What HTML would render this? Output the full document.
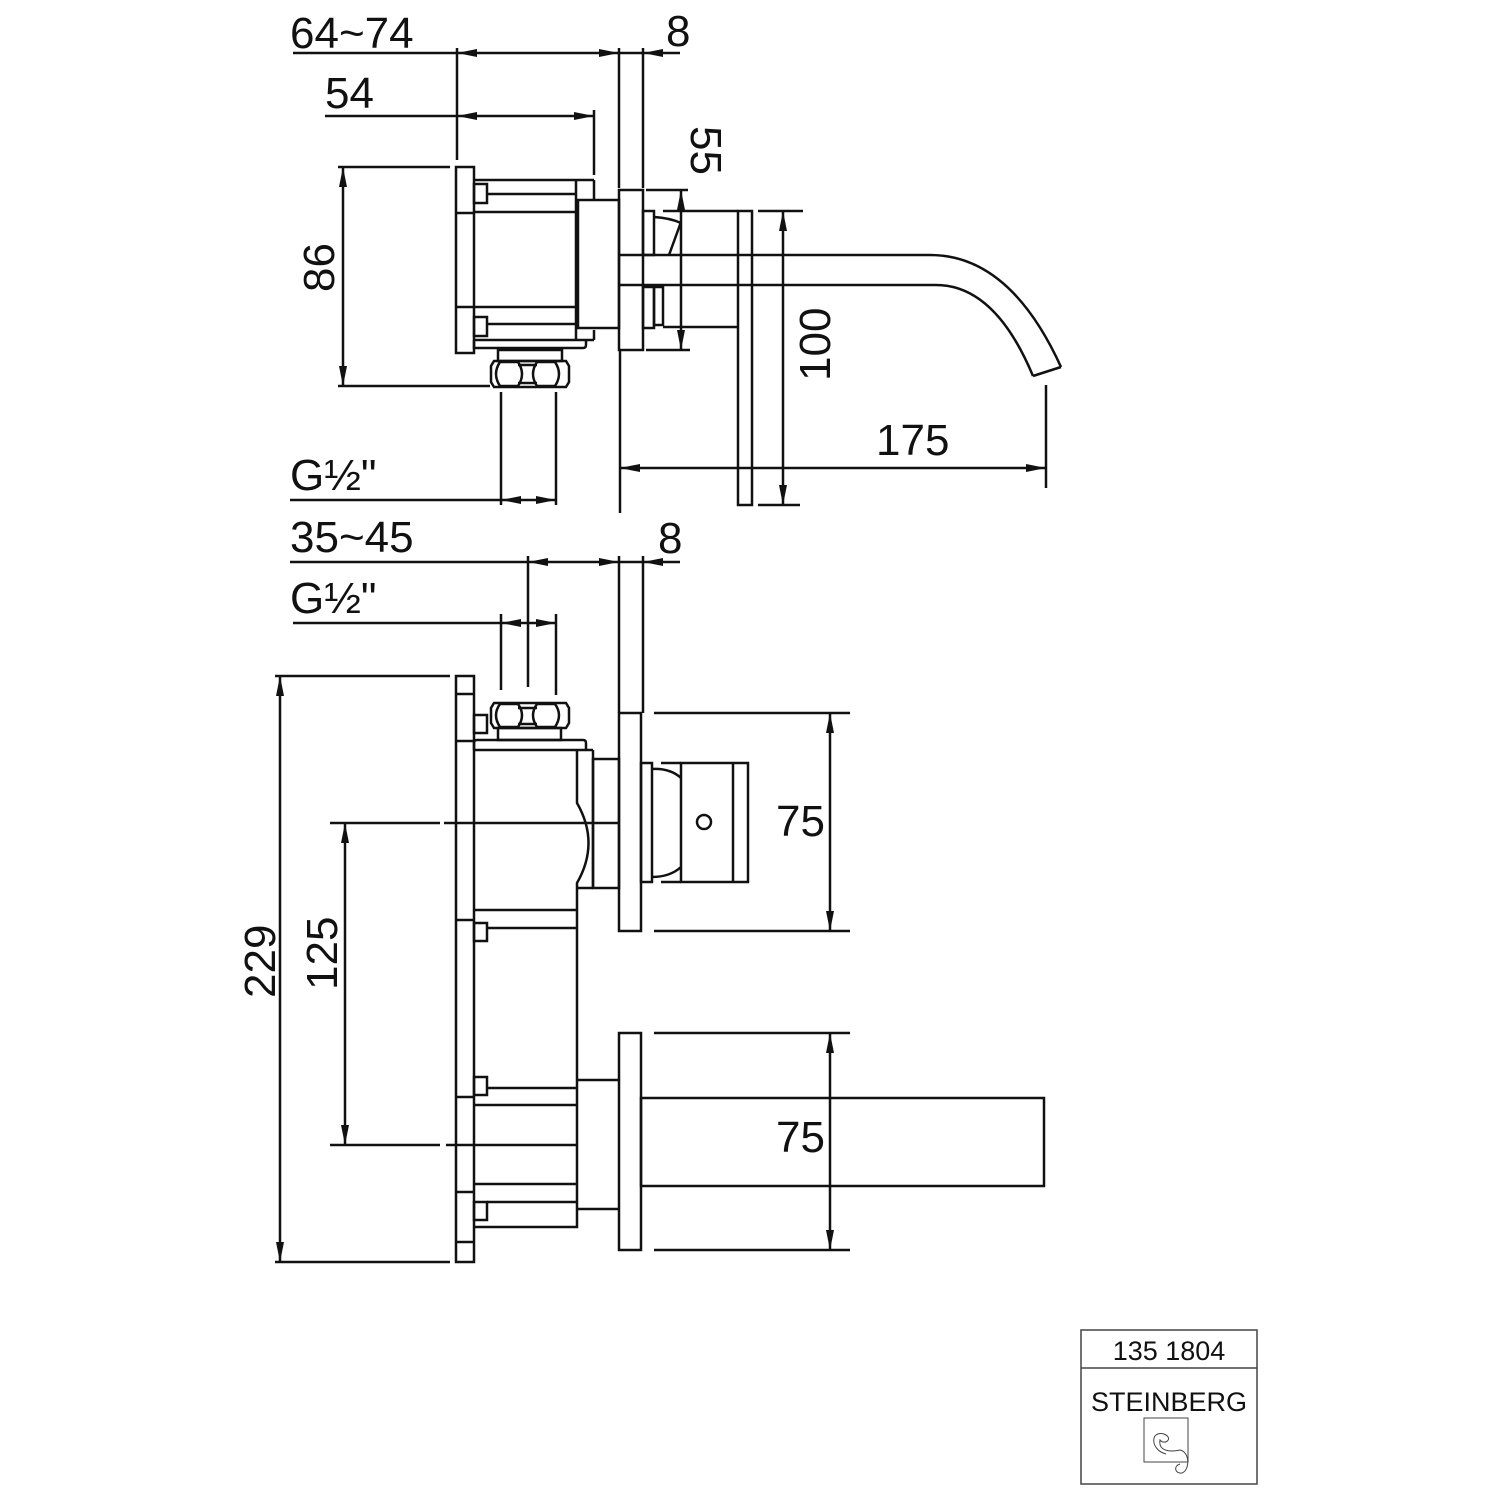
<!DOCTYPE html>
<html><head><meta charset="utf-8"><style>
html,body{margin:0;padding:0;background:#fff}
svg{display:block}
text{font-family:"Liberation Sans",sans-serif;fill:#111}
</style></head><body>
<svg width="1500" height="1500" viewBox="0 0 1500 1500" xmlns="http://www.w3.org/2000/svg">
<defs>
<marker id="a" viewBox="0 0 20 8" refX="20" refY="4" markerWidth="20" markerHeight="8" markerUnits="userSpaceOnUse" orient="auto-start-reverse"><path d="M0,0 L20,4 L0,8 Z" fill="#111"/></marker>
</defs>
<g stroke="#111" stroke-width="2.5" fill="none">
<line x1="293" y1="53" x2="457" y2="53"/>
<line x1="457" y1="53" x2="619" y2="53" marker-start="url(#a)" marker-end="url(#a)"/>
<line x1="619" y1="53" x2="643" y2="53"/>
<line x1="680" y1="53" x2="643" y2="53" marker-end="url(#a)"/>
<line x1="457" y1="48" x2="457" y2="160"/>
<line x1="619" y1="48" x2="619" y2="188"/>
<line x1="643" y1="48" x2="643" y2="188"/>
<line x1="325" y1="116" x2="457" y2="116"/>
<line x1="457" y1="116" x2="594" y2="116" marker-start="url(#a)" marker-end="url(#a)"/>
<line x1="594" y1="110" x2="594" y2="175"/>
<line x1="338" y1="167" x2="450" y2="167"/>
<line x1="338" y1="386" x2="490" y2="386"/>
<line x1="343" y1="167" x2="343" y2="386" marker-start="url(#a)" marker-end="url(#a)"/>
<rect x="456" y="167" width="18" height="186"/>
<line x1="456" y1="213" x2="474" y2="213"/>
<line x1="456" y1="307" x2="474" y2="307"/>
<rect x="474" y="184" width="13" height="19"/>
<rect x="474" y="317" width="13" height="19"/>
<line x1="474" y1="180" x2="594" y2="180"/>
<line x1="487" y1="194" x2="576" y2="194"/>
<line x1="474" y1="212" x2="576" y2="212"/>
<line x1="474" y1="307" x2="576" y2="307"/>
<line x1="487" y1="324" x2="576" y2="324"/>
<line x1="474" y1="340" x2="594" y2="340"/>
<line x1="576" y1="180" x2="576" y2="340"/>
<line x1="594" y1="180" x2="594" y2="200"/>
<line x1="594" y1="330" x2="594" y2="340"/>
<path d="M474,340 L474,348 L583,348 Q586,348 586,345 L586,340"/>
<rect x="498" y="350" width="64" height="11"/>
<path d="M494,361 L566,361 L569,366 L569,382 L566,387 L494,387 L491,382 L491,366 Z"/>
<path d="M500,362 Q492,374 500,386 M518,362 Q526,374 518,386 M500,362 L518,362 M500,386 L518,386"/>
<path d="M537,362 Q529,374 537,386 M555,362 Q563,374 555,386 M537,362 L555,362 M537,386 L555,386"/>
<line x1="518" y1="365" x2="537" y2="365"/><line x1="518" y1="383" x2="537" y2="383"/>
<rect x="578" y="200" width="41" height="128"/>
<rect x="619" y="190" width="24" height="160"/>
<rect x="643" y="211" width="11" height="44"/>
<rect x="643" y="287" width="11" height="41"/>
<rect x="654" y="287" width="9" height="38"/>
<path d="M654,217 Q670,218 681,223"/>
<line x1="681" y1="222" x2="669" y2="255"/>
<line x1="663" y1="211" x2="738" y2="211"/>
<line x1="663" y1="327" x2="738" y2="327"/>
<rect x="738" y="211" width="14" height="294"/>
<path d="M619,255 L930,255 Q1010,255 1061,367"/>
<path d="M619,285 L936,285 Q995,285 1033,376"/>
<line x1="1033" y1="376" x2="1061" y2="367"/>
<line x1="646" y1="190" x2="688" y2="190"/>
<line x1="646" y1="350" x2="690" y2="350"/>
<line x1="681" y1="190" x2="681" y2="350" marker-start="url(#a)" marker-end="url(#a)"/>
<line x1="758" y1="211" x2="803" y2="211"/>
<line x1="758" y1="505" x2="800" y2="505"/>
<line x1="783" y1="211" x2="783" y2="505" marker-start="url(#a)" marker-end="url(#a)"/>
<line x1="620" y1="350" x2="620" y2="513"/>
<line x1="1046" y1="385" x2="1046" y2="488"/>
<line x1="620" y1="468" x2="1046" y2="468" marker-start="url(#a)" marker-end="url(#a)"/>
<line x1="501" y1="392" x2="501" y2="505"/>
<line x1="556" y1="392" x2="556" y2="505"/>
<line x1="290" y1="500" x2="501" y2="500"/>
<line x1="501" y1="500" x2="556" y2="500" marker-start="url(#a)" marker-end="url(#a)"/>

<line x1="290" y1="562" x2="528" y2="562"/>
<line x1="528" y1="562" x2="619" y2="562" marker-start="url(#a)" marker-end="url(#a)"/>
<line x1="619" y1="562" x2="643" y2="562"/>
<line x1="680" y1="562" x2="643" y2="562" marker-end="url(#a)"/>
<line x1="293" y1="623" x2="501" y2="623"/>
<line x1="501" y1="623" x2="556" y2="623" marker-start="url(#a)" marker-end="url(#a)"/>
<line x1="501" y1="614" x2="501" y2="690"/>
<line x1="528" y1="556" x2="528" y2="687"/>
<line x1="556" y1="614" x2="556" y2="695"/>
<line x1="619" y1="556" x2="619" y2="713"/>
<line x1="643" y1="556" x2="643" y2="713"/>
<rect x="456" y="676" width="18" height="586"/>
<line x1="456" y1="694" x2="474" y2="694"/>
<line x1="456" y1="741" x2="474" y2="741"/>
<line x1="456" y1="920" x2="474" y2="920"/>
<line x1="456" y1="1097" x2="474" y2="1097"/>
<line x1="456" y1="1192" x2="474" y2="1192"/>
<line x1="456" y1="1242" x2="474" y2="1242"/>
<rect x="474" y="715" width="13" height="18"/>
<rect x="474" y="923" width="13" height="18"/>
<rect x="474" y="1077" width="13" height="18"/>
<rect x="474" y="1202" width="13" height="18"/>
<path d="M494,703 L566,703 L569,708 L569,723 L566,728 L494,728 L491,723 L491,708 Z"/>
<path d="M500,704 Q492,715 500,727 M518,704 Q526,715 518,727 M500,704 L518,704 M500,727 L518,727"/>
<path d="M537,704 Q529,715 537,727 M555,704 Q563,715 555,727 M537,704 L555,704 M537,727 L555,727"/>
<line x1="518" y1="708" x2="537" y2="708"/><line x1="518" y1="724" x2="537" y2="724"/>
<rect x="498" y="728" width="63" height="12"/>
<path d="M474,750 L474,743 Q474,740 477,740 L583,740 Q586,740 586,743 L586,750"/>
<line x1="474" y1="750" x2="593" y2="750"/>
<path d="M577,750 L577,803 Q600,843 577,883 L577,1227 L474,1227"/>
<line x1="593" y1="750" x2="593" y2="888"/>
<line x1="577" y1="888" x2="593" y2="888"/>
<line x1="474" y1="910" x2="577" y2="910"/>
<line x1="487" y1="928" x2="577" y2="928"/>
<line x1="487" y1="1088" x2="577" y2="1088"/>
<line x1="474" y1="1105" x2="577" y2="1105"/>
<line x1="474" y1="1184" x2="577" y2="1184"/>
<line x1="487" y1="1202" x2="577" y2="1202"/>
<rect x="593" y="759" width="26" height="129"/>
<line x1="330" y1="823" x2="440" y2="823"/>
<line x1="444" y1="823" x2="619" y2="823"/>
<line x1="330" y1="1145" x2="440" y2="1145"/>
<line x1="446" y1="1145" x2="577" y2="1145"/>
<rect x="619" y="713" width="22" height="218"/>
<rect x="641" y="763" width="11" height="119"/>
<path d="M652,769 Q670,768 681,778"/>
<path d="M652,877 Q670,877 681,867"/>
<line x1="661" y1="763" x2="681" y2="763"/>
<line x1="661" y1="882" x2="681" y2="882"/>
<rect x="681" y="763" width="67" height="119"/>
<line x1="733" y1="763" x2="733" y2="882"/>
<circle cx="704" cy="822" r="7"/>
<line x1="654" y1="713" x2="850" y2="713"/>
<line x1="654" y1="931" x2="850" y2="931"/>
<line x1="830" y1="713" x2="830" y2="931" marker-start="url(#a)" marker-end="url(#a)"/>
<line x1="577" y1="1080" x2="619" y2="1080"/>
<line x1="577" y1="1209" x2="619" y2="1209"/>
<rect x="619" y="1033" width="22" height="217"/>
<rect x="641" y="1098" width="403" height="88"/>
<line x1="654" y1="1033" x2="850" y2="1033"/>
<line x1="654" y1="1250" x2="850" y2="1250"/>
<line x1="830" y1="1033" x2="830" y2="1250" marker-start="url(#a)" marker-end="url(#a)"/>
<line x1="275" y1="676" x2="450" y2="676"/>
<line x1="275" y1="1262" x2="450" y2="1262"/>
<line x1="280" y1="676" x2="280" y2="1262" marker-start="url(#a)" marker-end="url(#a)"/>
<line x1="345" y1="823" x2="345" y2="1145" marker-start="url(#a)" marker-end="url(#a)"/>
</g>
<g font-size="44">
<text x="290" y="48">64~74</text>
<text x="666" y="46">8</text>
<text x="325" y="108">54</text>
<text x="876" y="455">175</text>
<text x="290" y="490">G½"</text>
<text x="290" y="552">35~45</text>
<text x="658" y="553">8</text>
<text x="290" y="613">G½"</text>
<text x="776" y="836">75</text>
<text x="776" y="1152">75</text>
<text transform="translate(334,292) rotate(-90)">86</text>
<text transform="translate(691,126) rotate(90)">55</text>
<text transform="translate(830,381) rotate(-90)">100</text>
<text transform="translate(275,998) rotate(-90)">229</text>
<text transform="translate(337,990) rotate(-90)">125</text>
</g>
<g stroke="#444" stroke-width="1.5" fill="none">
<rect x="1081" y="1330" width="176" height="154"/>
<line x1="1081" y1="1368" x2="1257" y2="1368"/>
<rect x="1144" y="1418" width="44" height="44" stroke-width="1"/>
<path d="M1166,1454 C1150,1450 1150,1430 1164,1434 C1174,1438 1165,1446 1160,1440 C1158,1452 1172,1452 1180,1450 C1190,1452 1190,1470 1182,1473 C1175,1474 1173,1466 1180,1464" stroke-width="1"/>
</g>
<text x="1169" y="1360" font-size="27" text-anchor="middle">135 1804</text>
<text x="1169" y="1411" font-size="27" text-anchor="middle">STEINBERG</text>
</svg>
</body></html>
